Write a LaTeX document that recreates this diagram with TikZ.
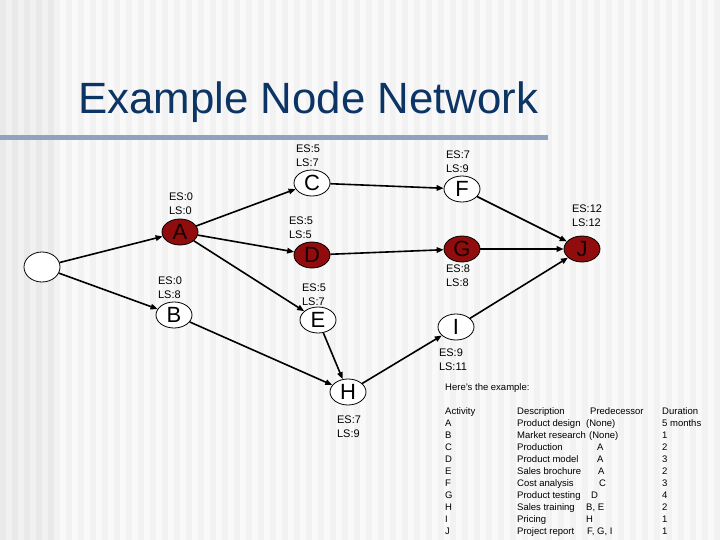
\documentclass[tikz,border=0pt]{standalone}
\usepackage{fontspec}
\setmainfont{Liberation Sans}
\usetikzlibrary{shapes.geometric,arrows.meta}
\definecolor{crit}{RGB}{145,12,12}
\definecolor{titleblue}{RGB}{12,52,100}
\definecolor{rulecol}{RGB}{143,163,190}
\tikzset{
  ev/.style={ellipse, draw=black, line width=0.8pt, minimum width=36pt, minimum height=26pt, inner sep=0pt, fill=white, font=\fontsize{22}{22}\selectfont},
  critev/.style={ev, fill=crit, text=black!85!crit},
  lab/.style={align=left, inner sep=0pt, font=\fontsize{11}{14}\selectfont},
  arr/.style={-{Triangle[length=7pt,width=5.5pt]}, line width=1.6pt},
  tab/.style={anchor=base west, inner sep=0pt, font=\fontsize{9.5}{12}\selectfont}
}
\begin{document}
\begin{tikzpicture}[x=1pt,y=-1pt]
\useasboundingbox (0,0) rectangle (720,540);
% background
\fill[gray!5] (0,0) rectangle (720,540);
\foreach \x in {54,66,...,714} \fill[gray!10] (\x,0) rectangle ++(6,540);
\fill[gray!11] (0,0) rectangle (53,540);
\foreach \x in {0,12,...,48} \fill[gray!17] (\x,0) rectangle ++(6,540);
% rule and title
\fill[rulecol] (0,135) rectangle (548,140);
\node[anchor=base west, inner sep=0pt, text=titleblue, font=\fontsize{43.8}{43.8}\selectfont] (title) at (78,114) {Example Node Network};
% events
\node[ev, minimum height=30pt] (S) at (42,267) {};
\node[critev] (A) at (180,232) {A};
\node[ev] (B) at (174,315) {B};
\node[ev] (C) at (312,183) {C};
\node[critev] (D) at (312,255) {D};
\node[ev] (E) at (318,320) {E};
\node[ev] (F) at (462,189) {F};
\node[critev] (G) at (462,249) {G};
\node[critev] (J) at (582,249) {J};
\node[ev] (I) at (456,327) {I};
\node[ev] (H) at (348,392) {H};
% labels
\node[lab] (lA) at (181,204) {ES:0\\LS:0};
\node[lab] (lC) at (308,155.5) {ES:5\\LS:7};
\node[lab] (lF) at (458,161.5) {ES:7\\LS:9};
\node[lab] (lD) at (301,228) {ES:5\\LS:5};
\node[lab] (lJ) at (587,216) {ES:12\\LS:12};
\node[lab] (lG) at (458,275.5) {ES:8\\LS:8};
\node[lab] (lB) at (170,288) {ES:0\\LS:8};
\node[lab] (lE) at (314,294.5) {ES:5\\LS:7};
\node[lab] (lI) at (453,360) {ES:9\\LS:11};
\node[lab] (lH) at (349,426.5) {ES:7\\LS:9};
% connectors
\draw[arr] (S) -- (A);
\draw[arr] (S) -- (B);
\draw[arr] (A) -- (C);
\draw[arr] (A) -- (D);
\draw[arr] (A) -- (E);
\draw[arr] (B) -- (H);
\draw[arr] (E) -- (H);
\draw[arr] (C) -- (F);
\draw[arr] (D) -- (G);
\draw[arr] (F) -- (J);
\draw[arr] (G) -- (J);
\draw[arr] (I) -- (J);
\draw[arr] (H) -- (I);
% table
\node[tab] (here) at (445,390) {Here's the example:};
\node[tab] (h1) at (445,414) {Activity};
\node[tab] (h2) at (517,414) {Description};
\node[tab] (h3) at (590,414) {Predecessor};
\node[tab] (h4) at (662,414) {Duration};
\foreach \y/\a/\d/\p/\px/\u in {
  426/A/Product design/(None)/586/5 months,
  438/B/Market research/(None)/589/1,
  450/C/Production/A/597/2,
  462/D/Product model/A/597/3,
  474/E/Sales brochure/A/598/2,
  486/F/Cost analysis/C/599/3,
  498/G/Product testing/D/591/4,
  510/H/Sales training/{B, E}/586/2,
  522/I/Pricing/H/586/1,
  534/J/Project report/{F, G, I}/587/1}{
  \node[tab] at (445,\y) {\a};
  \node[tab] at (517,\y) {\d};
  \node[tab] at (\px,\y) {\p};
  \node[tab] at (662,\y) {\u};
}
\end{tikzpicture}
\end{document}
